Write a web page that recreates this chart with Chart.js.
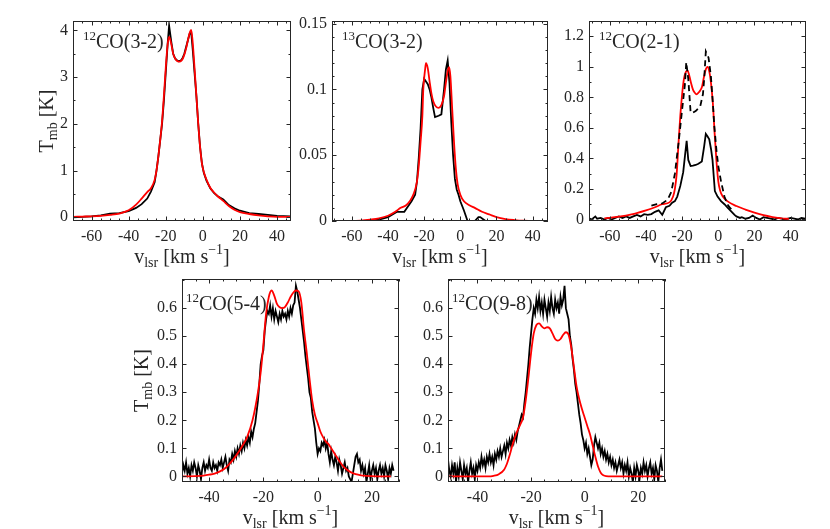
<!DOCTYPE html>
<html>
<head>
<meta charset="utf-8">
<script src="https://cdn.jsdelivr.net/npm/chart.js@4.4.1/dist/chart.umd.min.js"></script>
<style>
body { margin: 0; background: #fff; }
#fig { position: relative; width: 830px; height: 529px; }
#fig canvas { position: absolute; left: 0; top: 0; }
</style>
</head>
<body>
<div id="fig">
  <canvas id="p1" width="830" height="529"></canvas>
  <canvas id="p2" width="830" height="529"></canvas>
  <canvas id="p3" width="830" height="529"></canvas>
  <canvas id="p4" width="830" height="529"></canvas>
  <canvas id="p5" width="830" height="529"></canvas>
</div>
<script>
/* ---------- data (v_lsr in km/s, T_mb in K) ---------- */

// 12CO(3-2)
const v32 = [-70,-65,-60,-55,-50,-45,-40,-36,-33,-30,-28,-26,-25,-24,-23,-22,-21,-20,-19,-18.2,-17,-16,-15,-14,-13,-12,-11,-10,-9,-8,-7,-6.3,-5.5,-4.5,-3.5,-2.5,-1.5,-0.5,0.5,2,4,6,8,11,14,17,20,25,30,35,40,47];
const co32Obs = [0,0.01,0.02,0.04,0.08,0.09,0.13,0.2,0.28,0.4,0.55,0.75,1.0,1.3,1.65,2.0,2.5,3.1,3.7,4.1,3.75,3.5,3.4,3.36,3.34,3.35,3.4,3.5,3.65,3.8,3.95,3.96,3.6,3.1,2.6,2.0,1.5,1.15,0.95,0.78,0.62,0.52,0.45,0.38,0.26,0.19,0.14,0.09,0.07,0.05,0.03,0.02];
const co32Mod = [0.01,0.015,0.02,0.03,0.05,0.08,0.15,0.27,0.4,0.54,0.62,0.8,1.0,1.3,1.65,2.05,2.6,3.2,3.7,3.86,3.7,3.5,3.4,3.35,3.33,3.34,3.38,3.48,3.62,3.8,3.96,4.01,3.75,3.2,2.6,2.0,1.5,1.15,0.97,0.8,0.63,0.53,0.45,0.35,0.24,0.16,0.11,0.07,0.04,0.02,0.01,0.01];

// 13CO(3-2)
const v13obs = [-70,-50,-45,-40,-35,-31,-29,-27,-25,-24,-23,-22,-21,-20,-19,-18,-17,-16,-15,-14,-12,-10.5,-9,-8,-7,-6,-5,-4,-3,-2,-1,0,2,4,6,8,10,11,13,15,20,30,48];
const co13Obs = [0,0,0.001,0.003,0.007,0.007,0.011,0.015,0.02,0.03,0.048,0.07,0.1,0.108,0.106,0.104,0.1,0.094,0.086,0.079,0.08,0.081,0.1,0.115,0.122,0.105,0.075,0.05,0.032,0.024,0.02,0.015,0.008,0,-0.001,0,0.003,0.003,0.001,-0.001,-0.001,-0.001,-0.001];
const v13mod = [-70,-60,-55,-50,-45,-40,-36,-33,-30,-28,-26,-24,-23,-22,-21,-20.5,-19.5,-19,-18,-17,-16,-15,-13.5,-12,-10.5,-9,-8,-7,-6.2,-5.5,-4.5,-3.5,-2.5,-1.5,0,2,5,8,12,16,20,25,30,35,40,48];
const co13Mod = [0,0,0.0003,0.001,0.002,0.004,0.007,0.01,0.012,0.015,0.02,0.03,0.042,0.06,0.08,0.1,0.115,0.12,0.116,0.106,0.097,0.091,0.087,0.086,0.088,0.095,0.105,0.114,0.117,0.11,0.085,0.06,0.04,0.028,0.02,0.015,0.012,0.01,0.007,0.005,0.003,0.0015,0.0007,0.0002,0,0];

// 12CO(2-1): observed (solid), second observation (dashed), model (red)
const v21obs = [-72,-70,-68,-67,-65,-63,-61,-59,-57,-55,-53,-51,-49,-47,-45,-43,-41,-39,-37,-35,-33,-31,-29,-27,-25.5,-24,-22.7,-21,-19.4,-18.4,-17.5,-16.6,-15.3,-14,-12.5,-11,-9.1,-7.8,-6.9,-6,-5,-4,-3.2,-2.5,-1.9,-0.4,1.5,3.4,5,7,9,10,12,13,15,17,19,21,23,25,27,29,31,33,35,37,40,42,44,46,48];
const co21Obs = [0.01,0,0.02,0.005,0.01,0,0.01,0,0.01,0.02,0.01,0.02,0.01,0.02,0.03,0.02,0.035,0.03,0.035,0.05,0.06,0.03,0.08,0.09,0.11,0.12,0.15,0.22,0.31,0.42,0.515,0.39,0.35,0.352,0.357,0.365,0.38,0.48,0.56,0.545,0.525,0.46,0.39,0.28,0.186,0.15,0.12,0.1,0.08,0.055,0.03,0.02,0.01,0.015,0.005,0.01,0.026,0.01,0,0.015,0.01,0.005,0,0.01,0.005,0,0.01,0.005,0,0.01,0.005];
const v21dash = [-37,-34,-31,-28,-26,-24,-22,-20,-18.5,-17.7,-16.6,-15.3,-14,-12.5,-10,-8.5,-7.8,-6.9,-5.4,-4.1,-3,-2.2,-1,0,1.5,3.4,5,6.5,8];
const co21Dash = [0.09,0.1,0.105,0.13,0.18,0.3,0.5,0.72,0.88,1.03,0.92,0.7,0.7,0.71,0.74,0.82,0.92,1.1,1.06,0.94,0.76,0.61,0.45,0.35,0.25,0.15,0.1,0.075,0.06];
const v21mod = [-63,-55,-48,-40,-35,-31,-27,-25,-24,-23,-22,-21,-20,-19,-18,-17,-16,-15,-14,-13,-12,-11,-10,-9,-8,-7,-6,-5,-4,-3,-2,-1,0,1,2.5,5,10,15,20,25,30,35,39];
const co21Mod = [0.007,0.018,0.033,0.06,0.08,0.1,0.112,0.15,0.2,0.3,0.5,0.68,0.82,0.92,0.965,0.975,0.94,0.89,0.85,0.83,0.82,0.83,0.845,0.87,0.93,0.98,1.0,0.97,0.89,0.76,0.56,0.38,0.25,0.19,0.15,0.12,0.088,0.065,0.045,0.028,0.016,0.007,0.004];

// 12CO(5-4)
const v54 = [
  -50,-49.5,-49,-48.5,-48,-47.5,-47,-46.5,-46,-45.5,
  -45,-44.5,-44,-43.5,-43,-42.5,-42,-41.5,-41,-40.5,
  -40,-39.5,-39,-38.5,-38,-37.5,-37,-36.5,-36,-35.5,
  -35,-34.5,-34,-33.5,-33,-32.5,-32,-31.5,-31,-30.5,
  -30,-29.5,-29,-28.5,-28,-27.5,-27,-26.5,-26,-25.5,
  -25,-24.5,-24,-23.5,-23,-22.5,-22,-21.5,-21,-20.5,
  -20,-19.5,-19,-18.5,-18,-17.5,-17,-16.5,-16,-15.5,
  -15,-14.5,-14,-13.5,-13,-12.5,-12,-11.5,-11,-10.5,
  -10,-9.5,-9,-8.5,-8,-7.5,-7,-6.5,-6,-5.5,
  -5,-4.5,-4,-3.5,-3,-2.5,-2,-1.5,-1,-0.5,
  0,0.5,1,1.5,2,2.5,3,3.5,4,4.5,
  5,5.5,6,6.5,7,7.5,8,8.5,9,9.5,
  10,10.5,11,11.5,12,12.5,13,13.5,14,14.5,
  15,15.5,16,16.5,17,17.5,18,18.5,19,19.5,
  20,20.5,21,21.5,22,22.5,23,23.5,24,24.5,
  25,25.5,26,26.5,27,27.5,28];
const co54Obs = [
  0.01,0.04,0.02,0.05,0.01,0.03,0.00,0.04,0.02,0.05,
  0.03,0.00,0.04,0.02,-0.01,0.03,0.05,0.02,0.04,0.03,
  0.06,0.03,0.02,0.05,0.03,0.04,0.02,0.05,0.04,0.06,
  0.03,0.05,0.07,0.04,0.02,0.06,0.05,0.08,0.06,0.09,
  0.07,0.10,0.08,0.11,0.09,0.12,0.10,0.13,0.11,0.14,
  0.12,0.16,0.14,0.17,0.19,0.23,0.27,0.33,0.40,0.43,
  0.45,0.52,0.56,0.59,0.58,0.61,0.57,0.60,0.56,0.59,
  0.57,0.55,0.58,0.56,0.59,0.57,0.58,0.56,0.59,0.57,
  0.60,0.58,0.61,0.62,0.68,0.66,0.63,0.60,0.56,0.52,
  0.48,0.43,0.39,0.35,0.30,0.28,0.23,0.20,0.17,0.12,
  0.08,0.10,0.09,0.12,0.11,0.13,0.10,0.12,0.08,0.05,
  0.09,0.06,0.04,0.07,0.05,0.02,0.06,0.04,0.01,0.03,
  0.05,0.02,0.03,0.00,-0.01,-0.02,0.01,0.04,0.07,0.08,
  0.05,0.06,0.02,0.04,0.01,0.03,-0.02,0.01,0.04,-0.01,
  0.02,0.04,0.01,0.03,-0.01,0.02,0.04,0.01,0.03,0.00,
  0.04,0.02,-0.01,0.03,0.01,0.04,0.02];
const v54mod = [-50,-45,-42,-40,-38,-36,-34,-32,-30,-28,-26,-24,-22,-21,-20,-19,-18,-17,-16,-15,-14,-13,-12,-11,-10,-9,-8,-7,-6,-5,-4,-3,-2,-1,0,1,2,3,4,5,6,7,8,10,12,14,16,20,27];
const co54Mod = [0,0.001,0.003,0.006,0.01,0.018,0.03,0.05,0.075,0.105,0.14,0.2,0.3,0.37,0.47,0.58,0.64,0.663,0.645,0.615,0.603,0.6,0.605,0.62,0.64,0.655,0.663,0.66,0.62,0.52,0.44,0.35,0.27,0.22,0.19,0.16,0.14,0.125,0.115,0.1,0.085,0.07,0.055,0.03,0.016,0.008,0.004,0.001,0];

// 12CO(9-8)
const v98 = [
  -51,-50.5,-50,-49.5,-49,-48.5,-48,-47.5,-47,-46.5,
  -46,-45.5,-45,-44.5,-44,-43.5,-43,-42.5,-42,-41.5,
  -41,-40.5,-40,-39.5,-39,-38.5,-38,-37.5,-37,-36.5,
  -36,-35.5,-35,-34.5,-34,-33.5,-33,-32.5,-32,-31.5,
  -31,-30.5,-30,-29.5,-29,-28.5,-28,-27.5,-27,-26.5,
  -26,-25.5,-25,-24.5,-24,-23.5,-23,-22.5,-22,-21.5,
  -21,-20.5,-20,-19.5,-19,-18.5,-18,-17.5,-17,-16.5,
  -16,-15.5,-15,-14.5,-14,-13.5,-13,-12.5,-12,-11.5,
  -11,-10.5,-10,-9.5,-9,-8.5,-8,-7.5,-7,-6.5,
  -6,-5.5,-5,-4.5,-4,-3.5,-3,-2.5,-2,-1.5,
  -1,-0.5,0,0.5,1,1.5,2,2.5,3,3.5,
  4,4.5,5,5.5,6,6.5,7,7.5,8,8.5,
  9,9.5,10,10.5,11,11.5,12,12.5,13,13.5,
  14,14.5,15,15.5,16,16.5,17,17.5,18,18.5,
  19,19.5,20,20.5,21,21.5,22,22.5,23,23.5,
  24,24.5,25,25.5,26,26.5,27,27.5,28,28.5,
  29];
const co98Obs = [
  0.06,0.02,0.00,0.04,0.01,0.05,-0.02,0.03,0.00,0.05,
  0.02,-0.01,0.04,0.01,0.03,-0.02,0.02,0.05,0.01,0.03,
  -0.01,0.04,0.02,0.05,0.03,0.07,0.04,0.06,0.03,0.07,
  0.05,0.08,0.05,0.07,0.04,0.08,0.06,0.09,0.07,0.10,
  0.07,0.09,0.11,0.08,0.12,0.10,0.13,0.11,0.14,0.12,
  0.15,0.13,0.16,0.18,0.20,0.22,0.21,0.26,0.30,0.35,
  0.40,0.46,0.51,0.56,0.60,0.58,0.63,0.60,0.64,0.59,
  0.62,0.58,0.63,0.60,0.57,0.62,0.59,0.64,0.60,0.58,
  0.63,0.60,0.62,0.58,0.64,0.61,0.63,0.68,0.60,0.58,
  0.56,0.50,0.47,0.42,0.38,0.33,0.30,0.26,0.22,0.19,
  0.15,0.13,0.10,0.12,0.08,0.10,0.07,0.04,0.06,0.11,
  0.14,0.12,0.10,0.12,0.08,0.10,0.07,0.09,0.06,0.08,
  0.05,0.07,0.04,0.06,0.03,0.05,0.02,0.04,0.06,0.03,
  0.05,0.01,0.04,0.02,0.05,0.00,0.03,0.01,-0.02,0.03,
  0.00,0.04,0.02,-0.01,0.03,0.01,0.05,0.02,0.04,0.00,
  0.03,0.05,0.01,0.03,-0.01,0.04,0.02,-0.02,0.03,0.06,
  0.02];
const v98mod = [-51,-36,-34,-32,-30,-29,-28,-27,-26,-25,-24,-23,-22,-21,-20,-19,-18,-17,-16,-15,-14,-13,-12,-11,-10,-9,-8,-7,-6,-5,-4,-3,-2,-1,0,1,2,3,4,5,6,7,8,10,29];
const co98Mod = [0,0,0.002,0.008,0.025,0.045,0.075,0.11,0.14,0.165,0.185,0.21,0.27,0.35,0.44,0.51,0.54,0.546,0.535,0.528,0.532,0.528,0.51,0.49,0.484,0.49,0.505,0.514,0.505,0.46,0.39,0.32,0.275,0.24,0.21,0.18,0.15,0.11,0.07,0.035,0.013,0.004,0.001,0,0];

// tick values
const xTicksTop = [-60, -40, -20, 0, 20, 40];
const xTicksBot = [-40, -20, 0, 20];
const yTicks32 = [0, 1, 2, 3, 4];
const yTicks13 = [0, 0.05, 0.1, 0.15];
const yTicks21 = [0, 0.2, 0.4, 0.6, 0.8, 1, 1.2];
const yTicksHi = [0, 0.1, 0.2, 0.3, 0.4, 0.5, 0.6];

/* ---------- drawing ---------- */
const FONT = '"Liberation Serif", "Times New Roman", serif';
const INK = '#262626';
const RED = '#ff0000';
const TICK_FONT = { family: FONT, size: 16 };

Chart.defaults.font.family = FONT;
Chart.defaults.font.size = 16;
Chart.defaults.color = INK;

const xTitle = [['v', 20, 0], ['lsr', 14, 4], [' [km s', 20, 0], ['\u22121', 14, -9], [']', 20, 0]];
const yTitle = [['T', 20, 0], ['mb', 14, 4], [' [K]', 20, 0]];

function richText(ctx, parts, x, y, align) {
    let w = 0;
    parts.forEach(p => { ctx.font = p[1] + 'px ' + FONT; w += ctx.measureText(p[0]).width; });
    let cx = align === 'center' ? x - w / 2 : x;
    parts.forEach(p => {
        ctx.font = p[1] + 'px ' + FONT;
        ctx.fillText(p[0], cx, y + p[2]);
        cx += ctx.measureText(p[0]).width;
    });
}

// box, inward ticks on all four sides, labels
const specFrame = {
    id: 'specFrame',
    afterDraw(chart, args, o) {
        const { ctx, chartArea: a } = chart;
        const xs = chart.scales.x, ys = chart.scales.y;
        ctx.save();
        ctx.strokeStyle = INK;
        ctx.lineWidth = 1;
        ctx.strokeRect(a.left + 0.5, a.top + 0.5, a.width - 1, a.height - 1);

        ctx.beginPath();
        const xt = (v, len) => {
            const px = Math.round(xs.getPixelForValue(v)) + 0.5;
            ctx.moveTo(px, a.bottom); ctx.lineTo(px, a.bottom - len);
            ctx.moveTo(px, a.top); ctx.lineTo(px, a.top + len);
        };
        const yt = (v, len) => {
            const py = Math.round(ys.getPixelForValue(v)) + 0.5;
            ctx.moveTo(a.left, py); ctx.lineTo(a.left + len, py);
            ctx.moveTo(a.right, py); ctx.lineTo(a.right - len, py);
        };
        for (let v = Math.ceil(xs.min / o.xMinor) * o.xMinor; v <= xs.max; v += o.xMinor) xt(v, 2.5);
        for (let k = Math.ceil(ys.min / o.yMinor); k * o.yMinor <= ys.max + 1e-9; k++) yt(k * o.yMinor, 2.5);
        xs.ticks.forEach(t => xt(t.value, 4.5));
        ys.ticks.forEach(t => yt(t.value, 4.5));
        ctx.stroke();

        ctx.fillStyle = INK;
        ctx.textBaseline = 'alphabetic';
        ctx.textAlign = 'left';
        richText(ctx, [[o.iso, 13, -8], [o.line, 20, 0]], a.left + o.lx, a.top + o.ly);
        richText(ctx, xTitle, (a.left + a.right) / 2, a.bottom + 42, 'center');
        if (o.yOff) {
            ctx.translate(a.left - o.yOff, (a.top + a.bottom) / 2);
            ctx.rotate(-Math.PI / 2);
            richText(ctx, yTitle, 0, 0, 'center');
        }
        ctx.restore();
    }
};

const pts = (xs, ys) => xs.map((x, i) => ({ x: x, y: ys[i] }));

function spectrum(id, p) {
    const [l, t, r, b] = p.area;
    const yW = 45, xH = 45;
    new Chart(document.getElementById(id), {
        type: 'line',
        data: { datasets: p.sets },
        options: {
            responsive: false,
            animation: false,
            events: [],
            layout: { padding: { left: l - yW, right: 830 - r, top: t, bottom: 529 - b - xH } },
            elements: { point: { radius: 0 }, line: { borderWidth: 1.8 } },
            plugins: { legend: { display: false }, tooltip: { enabled: false }, specFrame: p.frame },
            scales: {
                x: {
                    type: 'linear', min: p.x[0], max: p.x[1],
                    grid: { display: false, drawTicks: false }, border: { display: false },
                    ticks: { font: TICK_FONT, color: INK, padding: 6, maxRotation: 0, callback: v => String(v) },
                    afterBuildTicks: s => { s.ticks = p.xTicks.map(v => ({ value: v })); },
                    afterFit: s => { s.height = xH; }
                },
                y: {
                    type: 'linear', min: p.y[0], max: p.y[1],
                    grid: { display: false, drawTicks: false }, border: { display: false },
                    ticks: { font: TICK_FONT, color: INK, padding: 5, callback: v => String(v) },
                    afterBuildTicks: s => { s.ticks = p.yTicks.map(v => ({ value: v })); },
                    afterFit: s => { s.width = yW; }
                }
            }
        },
        plugins: [specFrame]
    });
}

const model = (xs, ys) => ({ data: pts(xs, ys), borderColor: RED, cubicInterpolationMode: 'monotone' });
const obs = (xs, ys, dash) => ({ data: pts(xs, ys), borderColor: '#000', tension: 0, borderDash: dash || [] });

spectrum('p1', {
    area: [73, 21, 291, 221], x: [-70, 47.5], y: [-0.08, 4.2],
    xTicks: xTicksTop, yTicks: yTicks32,
    frame: { xMinor: 5, yMinor: 0.5, iso: '12', line: 'CO(3-2)', lx: 10, ly: 27, yOff: 20 },
    sets: [model(v32, co32Mod), obs(v32, co32Obs)]
});
spectrum('p2', {
    area: [332, 21, 548, 221], x: [-71, 48.5], y: [0, 0.152],
    xTicks: xTicksTop, yTicks: yTicks13,
    frame: { xMinor: 5, yMinor: 0.01, iso: '13', line: 'CO(3-2)', lx: 10, ly: 27 },
    sets: [model(v13mod, co13Mod), obs(v13obs, co13Obs)]
});
spectrum('p3', {
    area: [589, 21, 806, 221], x: [-71.5, 48.5], y: [-0.01, 1.3],
    xTicks: xTicksTop, yTicks: yTicks21,
    frame: { xMinor: 5, yMinor: 0.1, iso: '12', line: 'CO(2-1)', lx: 10, ly: 27 },
    sets: [obs(v21dash, co21Dash, [6, 4]), model(v21mod, co21Mod), obs(v21obs, co21Obs)]
});
spectrum('p4', {
    area: [182, 279, 399, 482], x: [-50, 30], y: [-0.02, 0.704],
    xTicks: xTicksBot, yTicks: yTicksHi,
    frame: { xMinor: 5, yMinor: 0.1, iso: '12', line: 'CO(5-4)', lx: 4, ly: 31, yOff: 34 },
    sets: [model(v54mod, co54Mod), obs(v54, co54Obs)]
});
spectrum('p5', {
    area: [448, 279, 665, 482], x: [-51, 30], y: [-0.02, 0.704],
    xTicks: xTicksBot, yTicks: yTicksHi,
    frame: { xMinor: 5, yMinor: 0.1, iso: '12', line: 'CO(9-8)', lx: 4, ly: 31 },
    sets: [model(v98mod, co98Mod), obs(v98, co98Obs)]
});
</script>
</body>
</html>
